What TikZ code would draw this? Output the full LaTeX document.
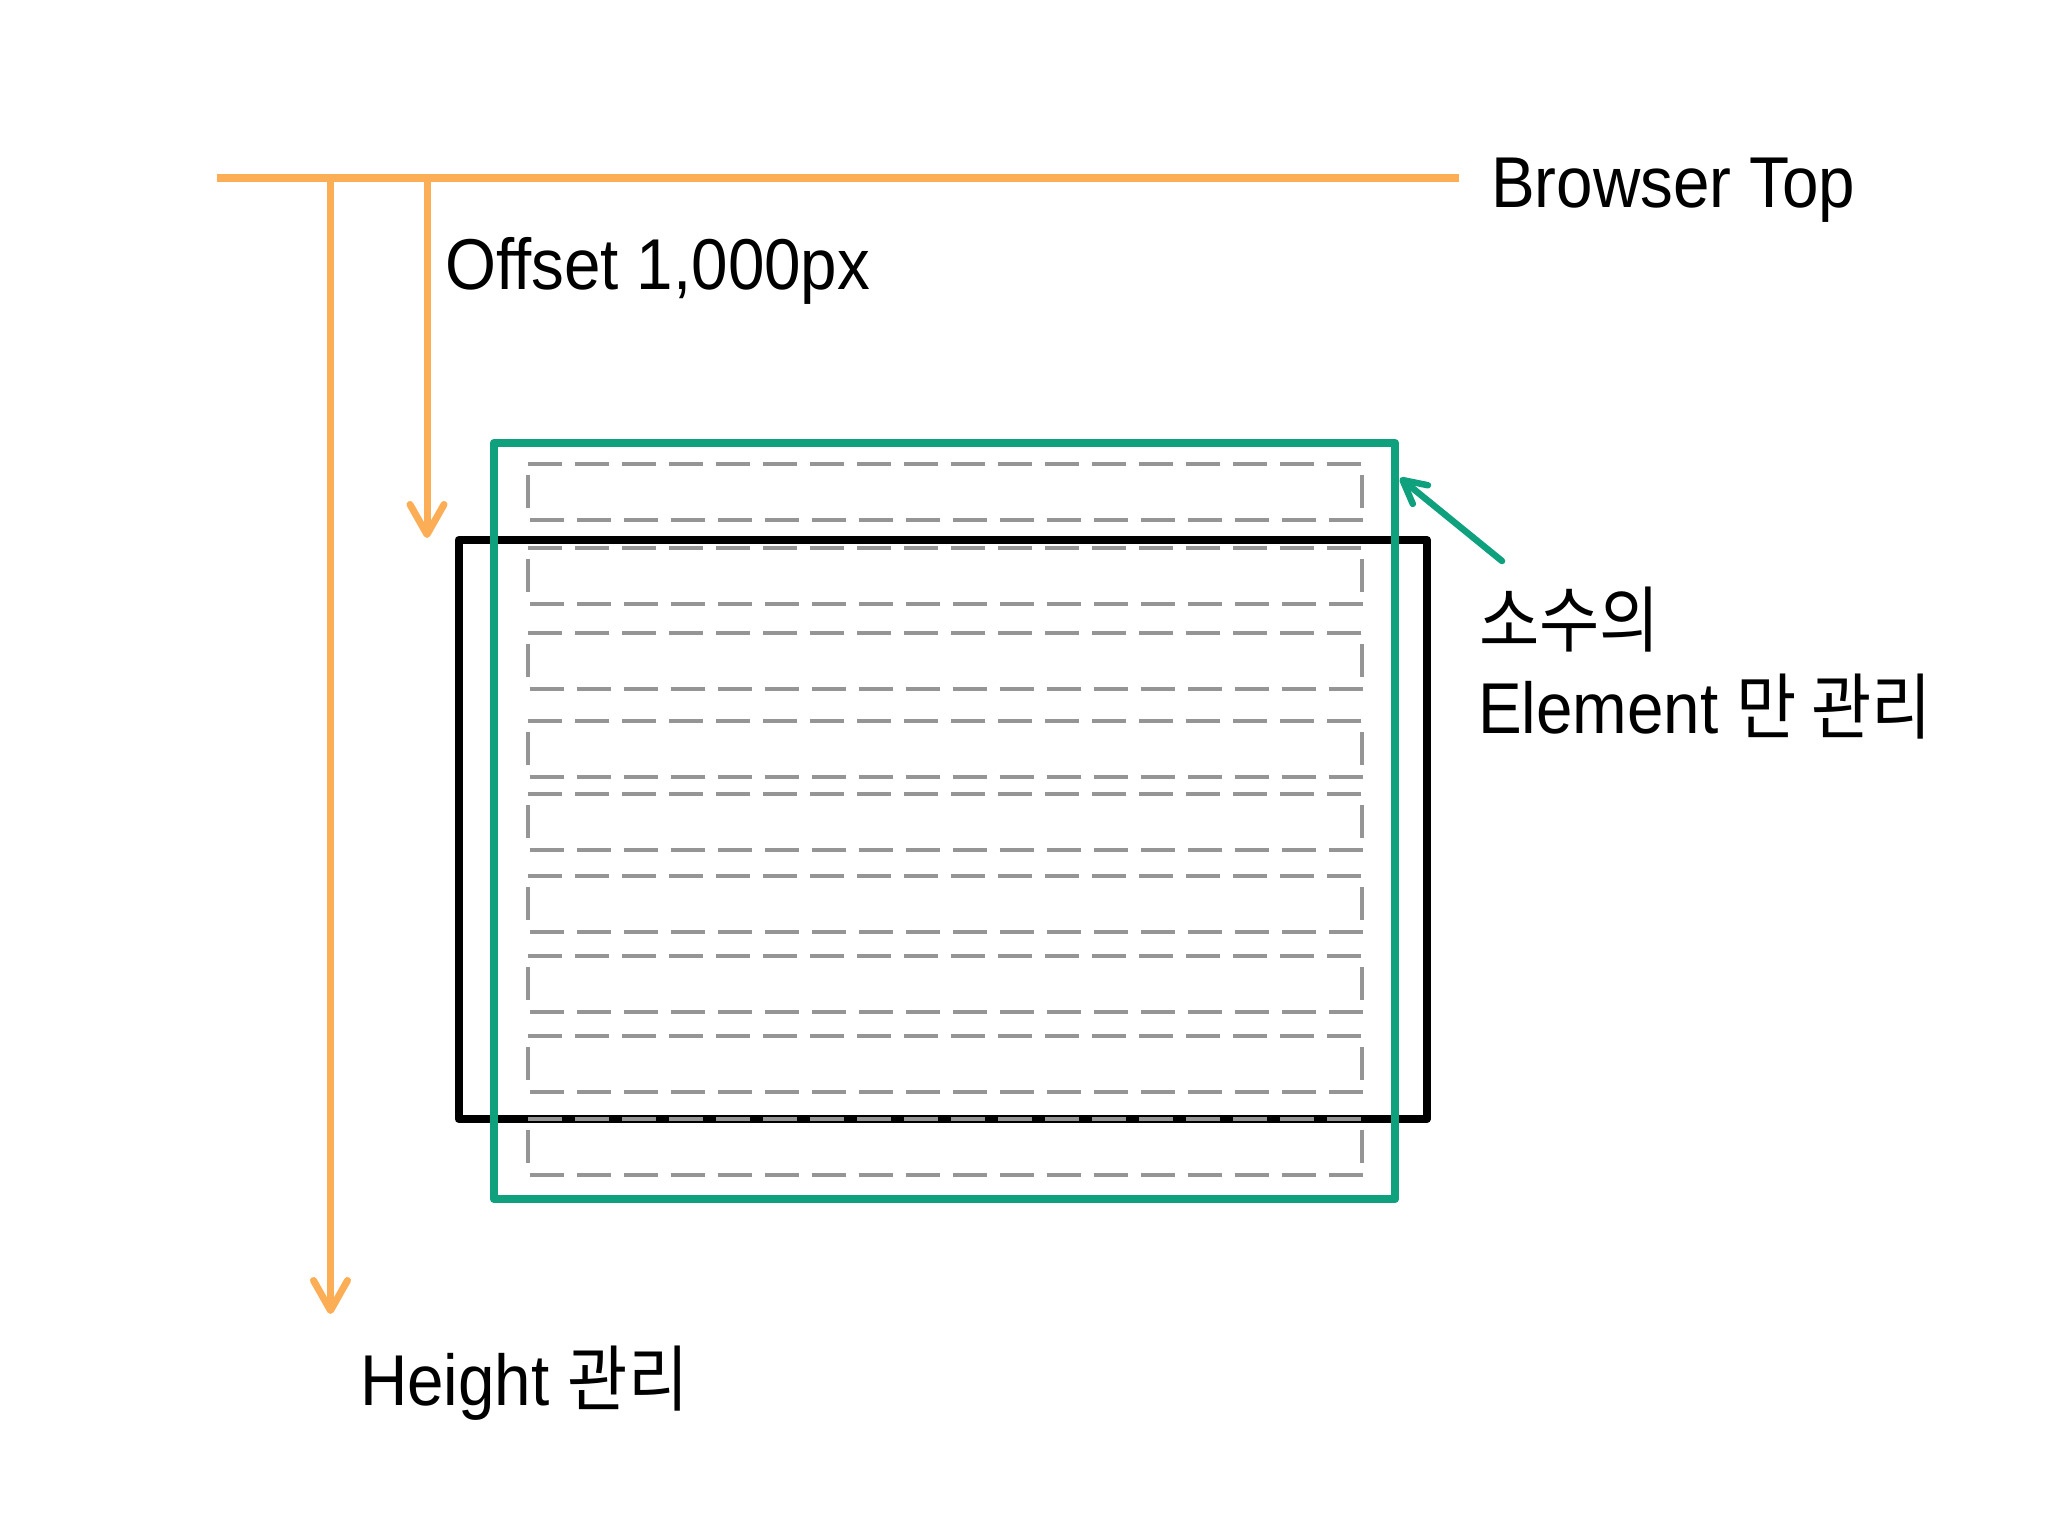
\documentclass[tikz,border=0pt]{standalone}
\usepackage{fontspec}
\setmainfont{Liberation Sans}[FakeStretch=0.91]
\newfontfamily\kr{Noto Sans CJK KR}[FakeStretch=0.91]
\usetikzlibrary{arrows.meta}
\definecolor{orng}{HTML}{FCAE56}
\definecolor{grn}{HTML}{0FA07E}
\definecolor{dgray}{HTML}{959595}
\tikzset{
  lbl/.style={inner sep=0pt, anchor=base west, font=\fontsize{72}{86}\selectfont, text=black},
  topline/.style={draw=orng, line width=8pt},
  orarrow/.style={draw=orng, line width=7pt, line cap=round, -{Straight Barb[length=30pt,width=34pt,round]}},
  grarrow/.style={draw=grn, line width=6.5pt, line cap=round, -{Straight Barb[length=23pt,width=24pt,round]}},
  blackbox/.style={draw=black, line width=8pt, line join=round},
  greenbox/.style={draw=grn, line width=8.5pt, line join=round},
  rowdash/.style={draw=dgray, line width=4pt, dash pattern=on 34pt off 13pt},
  rowside/.style={draw=dgray, line width=4pt}
}
\begin{document}
\begin{tikzpicture}[x=1pt,y=-1pt]
\useasboundingbox[fill=white] (0,0) rectangle (2048,1536);
% top line
\coordinate (lineL) at (217,178);
\coordinate (lineR) at (1459,178);
\draw[topline] (lineL) -- (lineR);
% arrows from browser top
\coordinate (hStart) at (330.5,178);
\coordinate (hEnd) at (330.5,1314);
\coordinate (oStart) at (427,178);
\coordinate (oEnd) at (427,538);
\draw[orarrow] (hStart) -- (hEnd);
\draw[orarrow] (oStart) -- (oEnd);
% boxes
\draw[blackbox] (458.5,540) rectangle (1427,1119);
\draw[greenbox] (494,443) rectangle (1395,1199);
% dashed rows
\foreach \t in {464,548,633,721,794,876,956,1036,1119}{
  \draw[rowdash] (528,\t) -- (1362,\t);
  \draw[rowdash] (529.5,\t+55.5) -- (1363.5,\t+55.5);
  \draw[rowside] (528,\t+11) -- (528,\t+44);
  \draw[rowside] (1362,\t+11) -- (1362,\t+44);
}
% green arrow
\coordinate (gTail) at (1502,561);
\coordinate (gTip) at (1400,478);
\draw[grarrow] (gTail) -- (gTip);
% labels
\node[lbl] (browsertop) at (1491,207) {Browser Top};
\node[lbl] (offset) at (445,289) {Offset 1,000px};
\node[lbl] (sosu) at (1479,646) {\kr 소수의};
\node[lbl] (element) at (1478,733) {Element {\kr 만 관리}};
\node[lbl] (height) at (360,1405) {Height {\kr 관리}};
\end{tikzpicture}
\end{document}
